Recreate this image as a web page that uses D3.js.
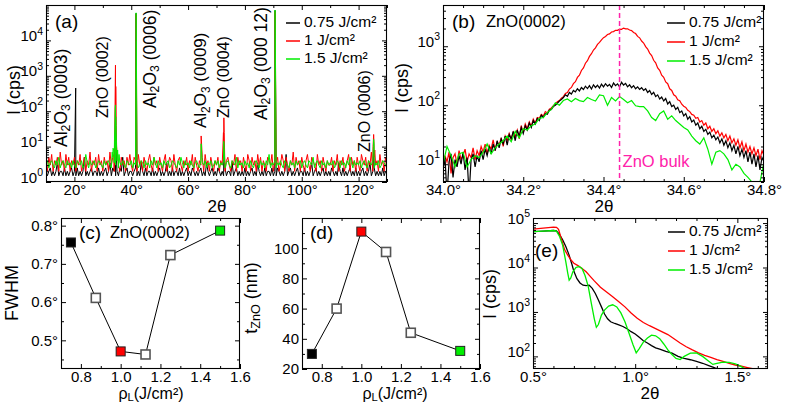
<!DOCTYPE html>
<html><head><meta charset="utf-8">
<script src="https://cdn.jsdelivr.net/npm/d3@7"></script>
<style>
body{margin:0;background:#fff}
svg{display:block;background:#fff}
</style></head><body>
<svg id="chart" width="789" height="404"></svg>
<script>
// ---------------- DATA ----------------
const fluenceLabels = ["0.75 J/cm²", "1 J/cm²", "1.5 J/cm²"];

// (a) wide 2θ scan: baseline counts every 0.5° from 10° to 130°
const scanStart = 10, scanStep = 0.5;
const aBlackBase = [
 2,1.5,2,2.5,1.5,2,1.5,2,3.5,1.5,2,2,1.5,2.5,1.5,2,1.5,2,2.5,1.5,
 2,1.5,2.5,1.5,2,1.5,2,5,1.5,2,1.5,2,2.5,1.5,2,2,1.5,2.5,1.5,2,
 1.5,2,2.5,1.5,2,3.5,1.5,2.5,2,1.5,2,1.5,2.5,2,5,1.5,2,2.5,1.5,2,
 2,1.5,2,2.5,1.5,2,1.5,3.5,2,1.5,2.5,1.5,2,2,1.5,2.5,1.5,2,1.5,2,
 2.5,1.5,2,1.5,2,3.5,1.5,2,1.5,2.5,1.5,2,2,1.5,2.5,1.5,2,1.5,2,2.5,
 1.5,2,1.5,2.5,2,1.5,2,1.5,2,2.5,1.5,2,1.5,3.5,2,1.5,2,2.5,1.5,2,
 1.5,2.5,2,1.5,2,1.5,2.5,1.5,2,2,1.5,3.5,1.5,2,2.5,1.5,2,1.5,2,1.5,
 2.5,1.5,2,1.5,2,2.5,1.5,2,1.5,3.5,2,1.5,2,1.5,2.5,1.5,2,2,1.5,2.5,
 1.5,2,1.5,2.5,2,1.5,2,1.5,2,6,1.5,2,2.5,1.5,2,1.5,2,2.5,1.5,2,
 2,1.5,2.5,1.5,2,1.5,2,3.5,1.5,2,2.5,1.5,2,1.5,2,2.5,1.5,2,1.5,2,
 1.5,2.5,2,1.5,2,1.5,3.5,2,1.5,2.5,1.5,2,1.5,2,2.5,1.5,2,1.5,2.5,1.5,
 2,1.5,2,2.5,1.5,2,1.5,2,3.5,1.5,2,2.5,1.5,2,1.5,2,1.5,2.5,1.5,2,2];
const aRedBase = [
 4,2,5,3,6,2,4,3,5,2,7,3,4,2,6,3,5,2,4,3,
 5,2,4,3,6,2,3,5,2,4,3,7,2,4,3,5,2,6,3,4,
 2,5,3,4,2,7,3,5,2,4,6,3,2,5,3,4,2,5,3,6,
 3,2,5,4,2,6,3,4,2,5,3,2,4,6,3,2,5,3,4,2,
 5,3,2,4,6,2,3,5,4,2,6,3,2,4,5,3,2,4,3,5,
 2,4,3,6,2,5,3,2,4,3,5,2,6,3,4,2,5,3,2,4,
 3,5,2,4,3,6,2,4,5,3,2,4,3,6,2,5,3,4,2,5,
 3,2,6,4,2,5,3,4,2,6,3,5,2,4,3,2,5,4,3,6,
 2,4,3,5,2,3,6,4,2,5,3,2,4,3,7,2,5,3,4,2,
 5,3,2,4,6,3,2,5,4,3,2,6,3,4,2,5,3,2,4,3,
 3,5,2,4,3,6,2,4,3,5,2,3,4,6,2,5,3,4,2,5,
 3,2,6,4,3,5,2,4,3,7,2,5,3,4,2,6,3,4,2,5,3];
const aGreenBase = [
 3,4,2.5,3.5,4,3,2.5,4,3,5,2.5,3.5,4,3,2.5,4,3,3.5,2.5,4,
 3,2.5,4,3.5,3,4,2.5,3,6,3.5,2.5,4,3,3.5,4,2.5,3,4,3.5,3,
 2.5,4,3,3.5,4,3,2.5,5,3.5,3,4,2.5,3.5,3,4,3,2.5,4,3.5,3,
 4,2.5,3.5,3,4,2.5,3,4,3.5,2.5,4,3,3.5,2.5,4,3,5,3.5,2.5,4,
 3,3.5,2.5,4,3,3.5,4,2.5,3,4,3.5,3,2.5,4,3,5,3.5,2.5,4,3,
 3.5,2.5,4,3,2.5,3.5,4,3,2.5,4,3.5,3,4,2.5,3.5,3,4,2.5,3,4,
 3,4,2.5,3.5,3,4,2.5,3.5,4,3,2.5,4,3.5,3,5,2.5,4,3,3.5,2.5,
 4,3,3.5,2.5,4,3,2.5,3.5,4,3,2.5,4,3,3.5,2.5,4,3,6,2.5,3.5,
 3,4,2.5,3.5,3,4,3,2.5,4,3.5,3,2.5,4,3,3.5,2.5,4,3,3.5,4,
 2.5,3.5,4,3,2.5,4,3.5,3,5,2.5,3.5,4,3,2.5,4,3,3.5,2.5,4,3,
 3.5,3,4,2.5,3,4,3.5,2.5,4,3,3.5,2.5,4,3,5,3.5,2.5,4,3,3.5,
 3,4,2.5,3.5,4,3,2.5,4,3.5,3,4,2.5,3.5,3,4,2.5,3,4,3.5,3,2.5];
// (a) Bragg peaks (angle, counts)
const aBlackPeakAngle = [20.45, 34.3, 34.45, 34.6, 41.7, 72.6, 90.6, 125.3];
const aBlackPeakValue = [450, 12, 25, 10, 58000, 8, 70000, 8];
const aRedPeakAngle = [33.9, 34.15, 34.3, 34.4, 34.45, 34.55, 34.7, 34.85, 35.2, 41.7, 41.8, 64.6, 72.45, 72.6, 72.7, 90.6, 90.7, 125.1, 125.3, 125.4, 125.7];
const aRedPeakValue = [6, 20, 150, 900, 2000, 500, 40, 10, 6, 55000, 8000, 20, 25, 65, 25, 65000, 12000, 10, 22, 14, 8];
const aGreenPeakAngle = [33.3, 33.6, 33.8, 34.1, 34.2, 34.35, 34.45, 34.55, 34.7, 34.8, 35.2, 35.7, 41.7, 41.8, 64.6, 72.55, 72.7, 90.6, 90.7, 125.2, 125.3, 125.45];
const aGreenPeakValue = [7, 9, 8, 15, 30, 120, 150, 70, 25, 12, 8, 6, 60000, 10000, 12, 14, 9, 72000, 15000, 10, 16, 12];
const aPeakNames = [
  [["Al"],["2","sub"],["O"],["3","sub"],[" (0003)"]],
  [["ZnO (0002)"]],
  [["Al"],["2","sub"],["O"],["3","sub"],[" (0006)"]],
  [["Al"],["2","sub"],["O"],["3","sub"],[" (0009)"]],
  [["ZnO (0004)"]],
  [["Al"],["2","sub"],["O"],["3","sub"],[" (000 12)"]],
  [["ZnO (0006)"]]
];

// (b) ZnO(0002) fine scan
const bStart = 34.0, bStepFine = 0.005, bStepCoarse = 0.01;
const bRed = [
 9,14,11,16,7,13,15,10,17,12,14,18,11,15,13,19,12,17,14,20,
 16,22,15,21,18,26,17,24,21,28,20,30,25,33,26,35,29,38,27,45,
 34,48,40,52,44,58,50,62,60,70,66,78,74,86,90,98,105,115,120,132,
 140,158,164,188,200,232,250,296,322,388,430,515,570,672,748,862,940,1075,1160,1285,
 1395,1465,1580,1620,1745,1770,1860,1860,1945,1935,2030,1970,1975,1880,1840,1710,1640,1470,1390,1225,
 1135,985,895,765,695,578,522,430,390,322,298,248,232,190,178,150,142,124,119,104,
 96,92,82,78,70,68,60,62,52,55,46,50,40,44,36,40,33,37,30,34,
 28,32,25,30,23,27,21,26,19,24,17,22,16,20,15,19,14,18,12,17,14];
const bBlack = [
 8,13,3,11,15,6,12,9,14,10,16,8,13,3,12,15,9,14,11,17,
 12,18,14,20,15,22,17,25,19,27,22,30,21,32,27,36,25,38,30,42,
 33,45,38,50,42,55,48,60,55,68,62,72,70,82,85,95,100,108,118,125,
 135,150,142,165,155,178,168,190,175,200,185,210,192,215,188,222,200,218,195,228,
 205,232,210,225,200,238,215,230,205,245,220,235,205,222,198,215,190,205,185,198,
 178,190,165,178,152,165,140,150,128,138,118,130,105,115,95,100,85,92,75,80,
 66,72,58,64,52,56,46,50,40,44,36,39,32,35,28,31,26,29,23,27,
 21,25,19,23,17,21,15,20,14,18,13,17,11,16,10,15,9,14,8,13,11];
const bGreen = [
 10,20,14,9,15,16,9,12,14,13,16,22,15,19,22,25,30,24,36,28,
 40,38,45,48,60,62,75,85,110,100,120,128,115,130,120,115,135,125,118,150,
 145,100,135,118,140,125,110,120,98,95,95,80,62,55,72,80,58,66,55,48,
 42,38,30,25,22,28,18,10,16,17,15,12,8,10,9,7,6,5,4,5,11];
const bBulkAngle = 34.44;

// (c),(d) vs laser fluence
const fluence = [0.75, 0.875, 1.0, 1.125, 1.25, 1.5];
const fwhm = [0.756, 0.611, 0.471, 0.463, 0.723, 0.787];
const thickness = [30, 60, 111, 97.5, 44, 32];

// (e) X-ray reflectivity
const eBlackAngle = [0.50,0.55,0.60,0.615,0.63,0.645,0.66,0.675,0.69,0.70,0.715,0.73,0.745,0.76,0.775,0.79,0.805,0.82,0.835,0.85,0.865,0.88,0.90,0.92,0.94,0.96,0.98,1.00,1.02,1.04,1.06,1.08,1.10,1.12,1.15,1.18,1.21,1.24,1.27,1.30,1.33,1.36,1.39,1.42];
const eBlackI = [64000,66000,68000,67000,55000,42000,30000,20000,12000,8200,5600,4500,4000,3900,4000,3400,2600,1850,1300,900,700,600,550,510,470,420,360,320,270,225,200,175,155,145,130,118,100,90,84,77,70,62,55,50];
const eRedAngle = [0.50,0.55,0.60,0.615,0.625,0.64,0.655,0.67,0.685,0.70,0.72,0.74,0.76,0.78,0.80,0.83,0.86,0.89,0.92,0.95,0.98,1.01,1.04,1.07,1.10,1.13,1.16,1.19,1.22,1.25,1.28,1.31,1.34,1.37,1.40,1.43,1.46,1.49,1.52,1.55,1.58,1.61,1.64];
const eRedI = [73000,77000,81000,80000,72000,42000,25000,19000,15000,12500,11000,9500,8000,6300,5000,3600,2800,2200,1700,1300,950,720,580,490,420,360,310,250,200,165,140,120,105,95,85,77,70,64,60,56,52,49,47];
const eGreenAngle = [0.50,0.55,0.60,0.615,0.63,0.645,0.66,0.67,0.677,0.685,0.695,0.71,0.725,0.74,0.755,0.77,0.785,0.80,0.81,0.82,0.835,0.85,0.87,0.89,0.91,0.93,0.95,0.97,0.99,1.005,1.02,1.04,1.06,1.08,1.10,1.12,1.14,1.16,1.18,1.20,1.22,1.24,1.27,1.30,1.33,1.36,1.38,1.40,1.43,1.46,1.49,1.51,1.53,1.55];
const eGreenI = [64000,66000,68000,66000,50000,32000,14000,7500,5200,5800,8000,10000,10500,9500,6500,3800,1600,700,450,520,850,1100,1350,1450,1300,950,600,330,180,120,150,210,260,300,290,250,190,140,110,90,85,100,118,120,100,78,66,70,74,73,68,62,55,50];

// ---------------- DRAWING ----------------
const FONT = "'Liberation Sans', Arial, Helvetica, sans-serif";
const COLORS = ["#000000", "#ff0000", "#00ee00"];
const svg = d3.select("#chart").attr("font-family", FONT);
const defs = svg.append("defs");
let clipN = 0;

function rich(textSel, parts, fs, subK = 0.28) {
  let shift = 0;
  parts.forEach(([s, mode]) => {
    const target = mode === "sub" ? fs * subK : mode === "sup" ? -fs * 0.42 : 0;
    const t = textSel.append("tspan").attr("dy", target - shift).text(s);
    if (mode) t.attr("font-size", fs * 0.7);
    shift = target;
  });
}

function panel(o) {
  const g = svg.append("g");
  const id = "clip" + (clipN++);
  defs.append("clipPath").attr("id", id).append("rect")
    .attr("x", o.x0).attr("y", o.y0).attr("width", o.x1 - o.x0).attr("height", o.y1 - o.y0);
  const plot = g.append("g").attr("clip-path", `url(#${id})`);
  const axes = g.append("g");
  function add(ax, tr, vals, size, fmt, pad = 3) {
    const a = ax.tickValues(vals).tickSizeInner(-size).tickSizeOuter(0).tickPadding(pad).tickFormat(fmt || (() => ""));
    const sel = axes.append("g").attr("transform", tr).call(a);
    sel.select(".domain").remove();
    sel.attr("font-family", FONT).attr("font-size", 15);
    sel.selectAll(".tick line").attr("stroke", "#000");
    sel.selectAll(".tick text").attr("fill", "#000");
    return sel;
  }
  const xs = o.xs, ys = o.ys;
  add(d3.axisBottom(xs), `translate(0,${o.y1})`, o.xMajor, 5, o.xFmt, 2);
  add(d3.axisBottom(xs), `translate(0,${o.y1})`, o.xMinor, 3);
  add(d3.axisTop(xs), `translate(0,${o.y0})`, o.xMajor, 5);
  add(d3.axisTop(xs), `translate(0,${o.y0})`, o.xMinor, 3);
  const left = add(d3.axisLeft(ys), `translate(${o.x0},0)`, o.yMajor, 5, o.yLog ? (() => "") : o.yFmt);
  if (o.yLog) {
    left.selectAll(".tick text").each(function (d) {
      rich(d3.select(this), [["10"], [String(Math.round(Math.log10(d))), "sup"]], 15);
    });
  }
  add(d3.axisLeft(ys), `translate(${o.x0},0)`, o.yMinor, 3);
  add(d3.axisRight(ys), `translate(${o.x1},0)`, o.yMajor, 5);
  add(d3.axisRight(ys), `translate(${o.x1},0)`, o.yMinor, 3);
  axes.append("rect").attr("x", o.x0 + 0.5).attr("y", o.y0 + 0.5)
    .attr("width", o.x1 - o.x0 - 1).attr("height", o.y1 - o.y0 - 1)
    .attr("fill", "none").attr("stroke", "#000").attr("stroke-width", 1.1);
  return { g, plot, axes };
}

function logMinor(lo, hi) {
  const out = [];
  for (let e = Math.floor(Math.log10(lo)); e <= Math.ceil(Math.log10(hi)); e++)
    for (let m = 2; m <= 9; m++) { const v = m * Math.pow(10, e); if (v >= lo && v <= hi) out.push(v); }
  return out;
}
const deg1 = d => d3.format(".1f")(d) + "°";

function text(x, y, parts, fs, opts = {}) {
  const t = svg.append("text").attr("x", x).attr("y", y).attr("font-size", fs)
    .attr("fill", opts.fill || "#000").attr("text-anchor", opts.anchor || "start")
    .attr("dominant-baseline", "middle");
  if (opts.rotate) t.attr("transform", `rotate(-90,${x},${y})`);
  rich(t, parts, fs, opts.subK);
  return t;
}

function legend(lx1, lx2, tx, ys) {
  fluenceLabels.forEach((lab, i) => {
    svg.append("line").attr("x1", lx1).attr("x2", lx2).attr("y1", ys[i]).attr("y2", ys[i])
      .attr("stroke", COLORS[i]).attr("stroke-width", 1.5);
    text(tx, ys[i], [[lab]], 15.5);
  });
}

const theta = [["2θ"]];
const ylabI = [["I (cps)"]];
const rhoL = [["ρ"], ["L", "sub"], ["(J/cm²)"]];

// ---------- (a) ----------
{
  const xs = d3.scaleLinear().domain([10, 130]).range([46, 387]);
  const ys = d3.scaleLog().domain([1, 1e5]).range([182, 5]);
  const p = panel({ x0: 46, x1: 387, y0: 5, y1: 182, xs, ys,
    xMajor: [20, 40, 60, 80, 100, 120], xMinor: [10, 30, 50, 70, 90, 110, 130], xFmt: d => d + "°",
    yMajor: [1, 10, 100, 1000, 1e4], yMinor: logMinor(1, 1e5), yLog: true });
  const base = vals => vals.map((v, i) => [scanStart + i * scanStep, v]);
  const merge = (b, pa, pv) => b.concat(pa.map((a, i) => [a, pv[i]])).sort((u, w) => u[0] - w[0]);
  const series = [
    merge(base(aBlackBase), aBlackPeakAngle, aBlackPeakValue),
    merge(base(aRedBase), aRedPeakAngle, aRedPeakValue),
    merge(base(aGreenBase), aGreenPeakAngle, aGreenPeakValue)];
  const line = d3.line().x(d => xs(d[0])).y(d => ys(d[1]));
  series.forEach((s, i) => p.plot.append("path").attr("d", line(s)).attr("fill", "none")
    .attr("stroke", COLORS[i]).attr("stroke-width", 1));
  // peak annotations
  const ann = [[62, 147, 17.5], [104, 118, 16], [151, 108, 17.5], [202, 128, 17], [225, 118, 16], [262, 120, 17.5], [366, 152, 16]];
  aPeakNames.forEach((parts, i) => text(ann[i][0], ann[i][1], parts, ann[i][2], { rotate: true }));
  text(55, 23, [["(a)"]], 19);
  legend(286, 300, 304, [23, 41, 59]);
  text(15, 90, ylabI, 18, { rotate: true, anchor: "middle" });
  text(217, 208, theta, 17, { anchor: "middle" });
}

// ---------- (b) ----------
{
  const xs = d3.scaleLinear().domain([34.0, 34.8]).range([443, 764]);
  const ys = d3.scaleLog().domain([5, 5000]).range([182, 5]);
  const p = panel({ x0: 443, x1: 764, y0: 5, y1: 182, xs, ys,
    xMajor: [34.0, 34.2, 34.4, 34.6, 34.8], xMinor: d3.range(34.05, 34.8, 0.05).filter((v, i) => i % 4 !== 3), xFmt: deg1,
    yMajor: [10, 100, 1000], yMinor: logMinor(5, 5000), yLog: true });
  const line = d3.line().x(d => xs(d[0])).y(d => ys(d[1]));
  const sr = bRed.map((v, i) => [bStart + i * bStepFine, v]);
  const sb = bBlack.map((v, i) => [bStart + i * bStepFine, v]);
  const sg = bGreen.map((v, i) => [bStart + i * bStepCoarse, v]);
  p.plot.append("path").attr("d", line(sr)).attr("fill", "none").attr("stroke", COLORS[1]).attr("stroke-width", 1.2);
  p.plot.append("path").attr("d", line(sb)).attr("fill", "none").attr("stroke", COLORS[0]).attr("stroke-width", 1.2);
  p.plot.append("path").attr("d", line(sg)).attr("fill", "none").attr("stroke", COLORS[2]).attr("stroke-width", 1.2);
  p.plot.append("line").attr("x1", xs(bBulkAngle)).attr("x2", xs(bBulkAngle)).attr("y1", 5).attr("y2", 182)
    .attr("stroke", "#ff22aa").attr("stroke-width", 1.5).attr("stroke-dasharray", "5,3");
  text(xs(bBulkAngle) + 3, 163, [["ZnO bulk"]], 16.5, { fill: "#ff22aa" });
  text(452, 23, [["(b)"]], 19);
  text(486, 23, [["ZnO(0002)"]], 16.5);
  legend(667, 685, 689, [23, 42, 61]);
  text(403, 88, ylabI, 18, { rotate: true, anchor: "middle" });
  text(604, 208, theta, 17, { anchor: "middle" });
}

// ---------- (c) & (d) ----------
function fluencePanel(x0, x1, ydom, yMajor, yMinor, yFmt, vals) {
  const xs = d3.scaleLinear().domain([0.7, 1.6]).range([x0, x1]);
  const ys = d3.scaleLinear().domain(ydom).range([369, 218]);
  const p = panel({ x0, x1, y0: 218, y1: 369, xs, ys,
    xMajor: [0.8, 1.0, 1.2, 1.4, 1.6], xMinor: [0.7, 0.9, 1.1, 1.3, 1.5], xFmt: d3.format(".1f"),
    yMajor, yMinor, yFmt });
  const pts = fluence.map((f, i) => [f, vals[i]]);
  p.plot.append("path").attr("d", d3.line().x(d => xs(d[0])).y(d => ys(d[1]))(pts))
    .attr("fill", "none").attr("stroke", "#000").attr("stroke-width", 1);
  const fillFor = f => f === 0.75 ? "#000" : f === 1.0 ? "#ff0000" : f === 1.5 ? "#00ee00" : "#fff";
  const s = 9;
  p.g.append("g").selectAll("rect").data(pts).join("rect")
    .attr("x", d => xs(d[0]) - s / 2).attr("y", d => ys(d[1]) - s / 2).attr("width", s).attr("height", s)
    .attr("fill", d => fillFor(d[0])).attr("stroke", d => fillFor(d[0]) === "#fff" ? "#555" : "#222")
    .attr("stroke-width", d => fillFor(d[0]) === "#fff" ? 1.6 : 1);
  return xs;
}
{
  fluencePanel(61, 240, [0.425, 0.82], [0.5, 0.6, 0.7, 0.8], [0.45, 0.55, 0.65, 0.75], deg1, fwhm);
  text(79, 234, [["(c)"]], 19);
  text(110, 234, [["ZnO(0002)"]], 16.5);
  text(13, 293, [["FWHM"]], 18, { rotate: true, anchor: "middle" });
  text(151, 395, rhoL, 16, { anchor: "middle", subK: 0.18 });
}
{
  fluencePanel(302, 480, [20, 120], [20, 40, 60, 80, 100], [30, 50, 70, 90, 110], d3.format("d"), thickness);
  text(310, 234, [["(d)"]], 19);
  text(252, 298, [["t"], ["ZnO", "sub"], [" (nm)"]], 18, { rotate: true, anchor: "middle" });
  text(395, 395, rhoL, 16, { anchor: "middle", subK: 0.18 });
}

// ---------- (e) ----------
{
  const xs = d3.scaleLinear().domain([0.5, 1.65]).range([533, 768]);
  const ys = d3.scaleLog().domain([52, 1.3e5]).range([369, 218]);
  const p = panel({ x0: 533, x1: 768, y0: 218, y1: 369, xs, ys,
    xMajor: [0.5, 1.0, 1.5], xMinor: [0.6, 0.7, 0.8, 0.9, 1.1, 1.2, 1.3, 1.4, 1.6], xFmt: deg1,
    yMajor: [100, 1000, 1e4, 1e5], yMinor: logMinor(52, 1.3e5), yLog: true });
  const line = d3.line().x(d => xs(d[0])).y(d => ys(d[1]));
  const data = [[eBlackAngle, eBlackI], [eRedAngle, eRedI], [eGreenAngle, eGreenI]];
  data.forEach(([a, v], i) => p.plot.append("path").attr("d", line(a.map((t, j) => [t, v[j]])))
    .attr("fill", "none").attr("stroke", COLORS[i]).attr("stroke-width", 1.3));
  text(535, 252, [["(e)"]], 19);
  legend(668, 685, 689, [232, 251, 270]);
  text(491, 294, ylabI, 18, { rotate: true, anchor: "middle" });
  text(650, 395, theta, 17, { anchor: "middle" });
}
</script>
</body></html>
